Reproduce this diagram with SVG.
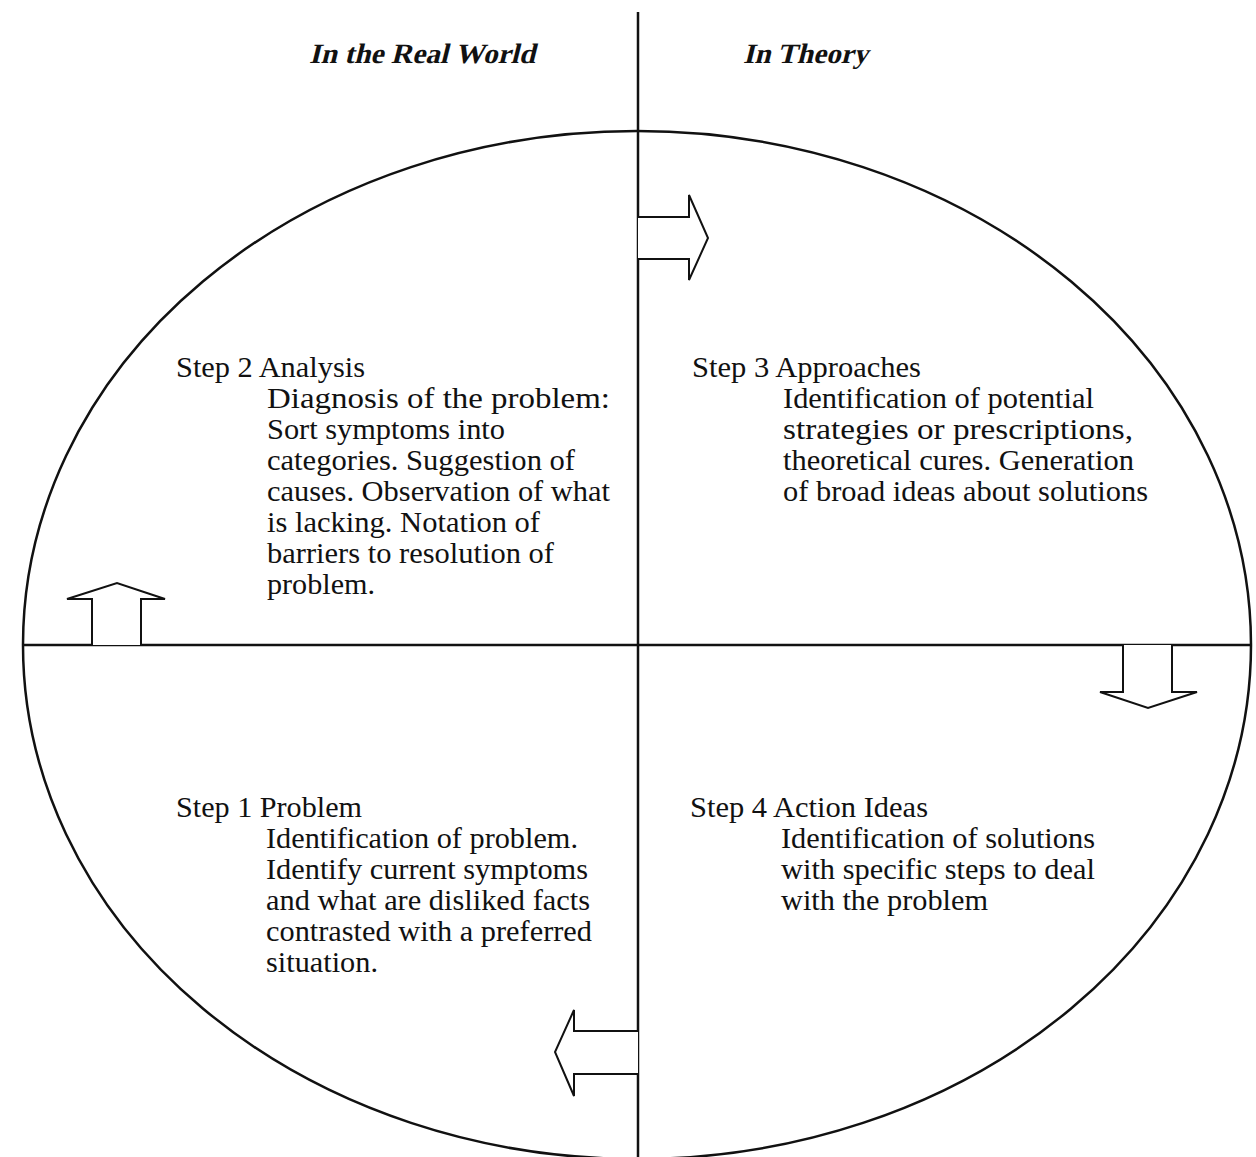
<svg xmlns="http://www.w3.org/2000/svg" width="1256" height="1157" viewBox="0 0 1256 1157">
<style>
.ln{stroke:#111;stroke-width:2.5;fill:none}
.ar{stroke:#111;stroke-width:2;fill:#fff;stroke-linejoin:miter}
.t{font-family:"Liberation Serif","Times New Roman",serif;font-size:29px;fill:#111}
.h{font-family:"Liberation Serif","Times New Roman",serif;font-size:28px;font-weight:bold;fill:#111}
</style>
<rect width="1256" height="1157" fill="#fff"/>
<g id="frame">
<ellipse class="ln" cx="637" cy="645" rx="614" ry="514"/>
<line class="ln" x1="638" y1="12" x2="638" y2="1157"/>
<line class="ln" x1="23" y1="645" x2="1251" y2="645"/>
</g>
<g id="headers">
<text class="h" transform="translate(309,63) skewX(-14)" x="0" y="0" textLength="226" lengthAdjust="spacingAndGlyphs">In the Real World</text>
<text class="h" transform="translate(743,63) skewX(-14)" x="0" y="0" textLength="125" lengthAdjust="spacingAndGlyphs">In Theory</text>
</g>
<g id="connectors">
<path class="ar" d="M638,217 H689 V195 L708,238 L689,280 V259 H638"/>
<path class="ar" d="M1123,645 V692 H1100 L1148,708 L1197,692 H1172 V645"/>
<path class="ar" d="M638,1031 H574 V1010 L555,1052 L574,1096 V1074 H638"/>
<path class="ar" d="M92,645 V599 H67 L117,583 L165,599 H141 V645"/>
</g>
<g id="step2">
<text class="t" x="176" y="377" textLength="189" lengthAdjust="spacingAndGlyphs">Step 2 Analysis</text>
<text class="t" x="267" y="408" textLength="343" lengthAdjust="spacingAndGlyphs">Diagnosis of the problem:</text>
<text class="t" x="267" y="439" textLength="238" lengthAdjust="spacingAndGlyphs">Sort symptoms into</text>
<text class="t" x="267" y="470" textLength="308" lengthAdjust="spacingAndGlyphs">categories. Suggestion of</text>
<text class="t" x="267" y="501" textLength="343" lengthAdjust="spacingAndGlyphs">causes. Observation of what</text>
<text class="t" x="267" y="532" textLength="273" lengthAdjust="spacingAndGlyphs">is lacking. Notation of</text>
<text class="t" x="267" y="563" textLength="287" lengthAdjust="spacingAndGlyphs">barriers to resolution of</text>
<text class="t" x="267" y="594" textLength="108" lengthAdjust="spacingAndGlyphs">problem.</text>
</g>
<g id="step3">
<text class="t" x="692" y="377" textLength="229" lengthAdjust="spacingAndGlyphs">Step 3 Approaches</text>
<text class="t" x="783" y="408" textLength="311" lengthAdjust="spacingAndGlyphs">Identification of potential</text>
<text class="t" x="783" y="439" textLength="350" lengthAdjust="spacingAndGlyphs">strategies or prescriptions,</text>
<text class="t" x="783" y="470" textLength="351" lengthAdjust="spacingAndGlyphs">theoretical cures. Generation</text>
<text class="t" x="783" y="501" textLength="365" lengthAdjust="spacingAndGlyphs">of broad ideas about solutions</text>
</g>
<g id="step1">
<text class="t" x="176" y="817" textLength="186" lengthAdjust="spacingAndGlyphs">Step 1 Problem</text>
<text class="t" x="266" y="848" textLength="312" lengthAdjust="spacingAndGlyphs">Identification of problem.</text>
<text class="t" x="266" y="879" textLength="322" lengthAdjust="spacingAndGlyphs">Identify current symptoms</text>
<text class="t" x="266" y="910" textLength="324" lengthAdjust="spacingAndGlyphs">and what are disliked facts</text>
<text class="t" x="266" y="941" textLength="326" lengthAdjust="spacingAndGlyphs">contrasted with a preferred</text>
<text class="t" x="266" y="972" textLength="112" lengthAdjust="spacingAndGlyphs">situation.</text>
</g>
<g id="step4">
<text class="t" x="690" y="817" textLength="238" lengthAdjust="spacingAndGlyphs">Step 4 Action Ideas</text>
<text class="t" x="781" y="848" textLength="314" lengthAdjust="spacingAndGlyphs">Identification of solutions</text>
<text class="t" x="781" y="879" textLength="314" lengthAdjust="spacingAndGlyphs">with specific steps to deal</text>
<text class="t" x="781" y="910" textLength="207" lengthAdjust="spacingAndGlyphs">with the problem</text>
</g>
</svg>
